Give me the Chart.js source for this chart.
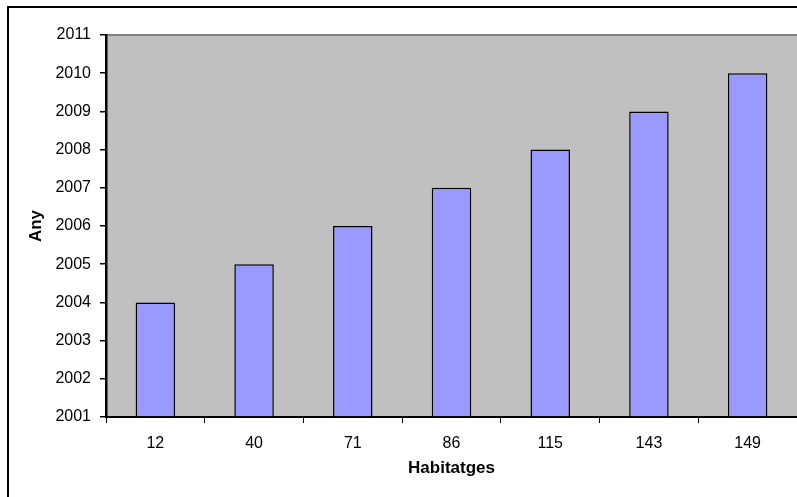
<!DOCTYPE html>
<html>
<head>
<meta charset="utf-8">
<script src="https://cdn.jsdelivr.net/npm/chart.js@4/dist/chart.umd.min.js"></script>
<style>
  html, body { margin: 0; padding: 0; background: #fff; }
  #wrap { width: 797px; height: 497px; position: relative; }
</style>
</head>
<body>
<div id="wrap"><canvas id="chart"></canvas></div>
<script>
const habitatges = ['12', '40', '71', '86', '115', '143', '149'];
const anys = [2004, 2005, 2006, 2007, 2008, 2009, 2010];
const yMin = 2001;
const yMax = 2011;

// Excel-style backdrop: outer frame, grey plot area with darker top edge
const backdrop = {
    id: 'backdrop',
    beforeDraw(chart) {
        const ctx = chart.ctx;
        const a = chart.chartArea;
        ctx.save();
        ctx.fillStyle = '#ffffff';
        ctx.fillRect(0, 0, chart.width, chart.height);
        ctx.strokeStyle = '#000';
        ctx.lineWidth = 2;
        ctx.beginPath();
        ctx.moveTo(8, chart.height + 2);
        ctx.lineTo(8, 7);
        ctx.lineTo(chart.width + 2, 7);
        ctx.stroke();
        ctx.fillStyle = '#c0c0c0';
        ctx.fillRect(a.left, a.top, a.right - a.left, a.bottom - a.top);
        ctx.strokeStyle = '#808080';
        ctx.lineWidth = 2;
        ctx.beginPath();
        ctx.moveTo(a.left, a.top);
        ctx.lineTo(a.right, a.top);
        ctx.stroke();
        ctx.restore();
    }
};

const font = 'Liberation Sans, Arial, sans-serif';

new Chart(document.getElementById('chart'), {
    type: 'bar',
    data: {
        labels: habitatges,
        datasets: [{
            data: anys,
            base: yMin,
            backgroundColor: '#9999ff',
            borderColor: '#000',
            borderWidth: 1.5,
            categoryPercentage: 1,
            barPercentage: 0.4
        }]
    },
    options: {
        responsive: true,
        maintainAspectRatio: false,
        animation: false,
        layout: { padding: { left: 10, top: 35, right: 0, bottom: 0 } },
        plugins: { legend: { display: false }, tooltip: { enabled: false } },
        scales: {
            x: {
                afterFit(s) { s.height = 80; },
                grid: { offset: true, drawOnChartArea: false, tickLength: 6, color: '#000', lineWidth: 1 },
                border: { color: '#000', width: 2 },
                ticks: { color: '#000', padding: 11, font: { family: font, size: 16 } },
                title: { display: true, text: 'Habitatges', color: '#000', padding: { top: 0, bottom: 18 }, font: { family: font, size: 17, weight: 'bold' } }
            },
            y: {
                min: yMin,
                max: yMax,
                afterFit(s) { s.width = 96; },
                grid: { drawOnChartArea: false, tickLength: 6, color: '#000', lineWidth: 1.5 },
                border: { color: '#000', width: 2.5 },
                ticks: { stepSize: 1, color: '#000', padding: 9, font: { family: font, size: 16 }, callback: v => String(v) },
                title: { display: true, text: 'Any', color: '#000', padding: { top: 16, bottom: 0 }, font: { family: font, size: 17, weight: 'bold' } }
            }
        }
    },
    plugins: [backdrop]
});
</script>
</body>
</html>
